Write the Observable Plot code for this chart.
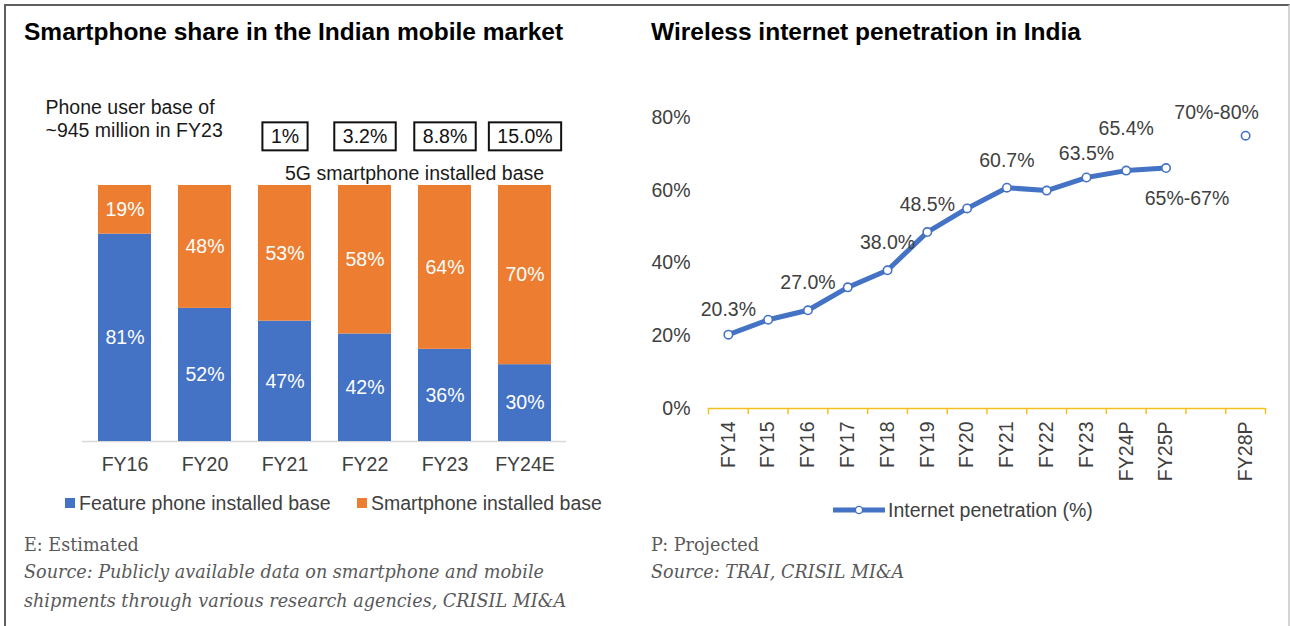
<!DOCTYPE html>
<html>
<head>
<meta charset="utf-8">
<script src="https://cdn.jsdelivr.net/npm/d3@7"></script>
<script src="https://cdn.jsdelivr.net/npm/@observablehq/plot@0.6"></script>
<style>
  html, body { margin: 0; padding: 0; background: #fff; }
  #root { position: relative; width: 1290px; height: 626px; overflow: hidden; font-family: "Liberation Sans", Arial, sans-serif; }
  .frame { position: absolute; left: 4px; top: 4px; width: 1282px; height: 700px; border-top: 2px solid #5f5f5f; border-left: 2px solid #5f5f5f; border-right: 2px solid #d4d4d4; }
  .title { position: absolute; font-weight: bold; font-size: 24.5px; line-height: 30px; color: #000; white-space: nowrap; }
  .legend { position: absolute; font-size: 19.5px; line-height: 24px; color: #404040; white-space: nowrap; }
  .sw { position: absolute; width: 10px; height: 10px; }
  .note { position: absolute; font-family: "DejaVu Serif", serif; font-size: 17.6px; line-height: 26px; color: #595959; white-space: nowrap; }
  .note i { font-style: italic; }
  .plotbox { position: absolute; }
  .plotbox svg { overflow: visible; }
</style>
</head>
<body>
<div id="root">
  <div class="frame"></div>
  <div class="title" id="t1" style="left:24px; top:17px;"></div>
  <div class="title" id="t2" style="left:651px; top:17px;"></div>
  <div class="plotbox" id="leftPlot" style="left:0px; top:90px;"></div>
  <div class="plotbox" id="rightPlot" style="left:640px; top:90px;"></div>
  <div class="sw" style="left:65px; top:498px; background:#4472C4;"></div>
  <div class="legend" id="lg1" style="left:79px; top:491px;"></div>
  <div class="sw" style="left:357px; top:498px; background:#ED7D31;"></div>
  <div class="legend" id="lg2" style="left:371px; top:491px;"></div>
  <svg style="position:absolute; left:831px; top:503px;" width="56" height="14">
    <line x1="2" y1="7" x2="54" y2="7" stroke="#4472C4" stroke-width="5"></line>
    <circle cx="28" cy="7" r="3.6" fill="#fff" stroke="#4472C4" stroke-width="1.4"></circle>
  </svg>
  <div class="legend" id="lg3" style="left:888px; top:498px;"></div>
  <div class="note" id="n1" style="left:24px; top:532px;"></div>
  <div class="note" id="n2" style="left:24px; top:559px;"><i></i></div>
  <div class="note" id="n3" style="left:24px; top:588px;"><i></i></div>
  <div class="note" id="n4" style="left:651px; top:532px;"></div>
  <div class="note" id="n5" style="left:651px; top:559px;"><i></i></div>
</div>
<script>
// ---------- data: left chart ----------
const leftTitle = "Smartphone share in the Indian mobile market";
const phoneCats = ["FY16", "FY20", "FY21", "FY22", "FY23", "FY24E"];
const featureShare = [81, 52, 47, 42, 36, 30];
const smartShare = [19, 48, 53, 58, 64, 70];
const seriesNames = ["Feature phone installed base", "Smartphone installed base"];
const fiveGCats = ["FY21", "FY22", "FY23", "FY24E"];
const fiveGShare = ["1%", "3.2%", "8.8%", "15.0%"];
const fiveGNote = "5G smartphone installed base";
const userBaseNote = "Phone user base of\n~945 million in FY23";
const leftNotes = ["E: Estimated", "Source: Publicly available data on smartphone and mobile", "shipments through various research agencies, CRISIL MI&A"];

// ---------- data: right chart ----------
const rightTitle = "Wireless internet penetration in India";
const axisSlots = ["FY14", "FY15", "FY16", "FY17", "FY18", "FY19", "FY20", "FY21", "FY22", "FY23", "FY24P", "FY25P", "", "FY28P"];
const penCats = ["FY14", "FY15", "FY16", "FY17", "FY18", "FY19", "FY20", "FY21", "FY22", "FY23", "FY24P", "FY25P"];
const penVals = [20.3, 24.4, 27.0, 33.3, 38.0, 48.5, 55.0, 60.7, 59.9, 63.5, 65.4, 66.1];
const outlookCat = "FY28P";
const outlookVal = 75.0;
const labelCats = ["FY14", "FY16", "FY18", "FY19", "FY21", "FY23", "FY24P", "FY25P", "FY28P"];
const labelTexts = ["20.3%", "27.0%", "38.0%", "48.5%", "60.7%", "63.5%", "65.4%", "65%-67%", "70%-80%"];
const yTicks = [0, 20, 40, 60, 80];
const seriesName = "Internet penetration (%)";
const rightNotes = ["P: Projected", "Source: TRAI, CRISIL MI&A"];

// ---------- styles ----------
const FONT = '"Liberation Sans", Arial, sans-serif';
const BLUE = "#4472C4", ORANGE = "#ED7D31", GOLD = "#F5C01E", AXIS_TEXT = "#404040";

document.getElementById("t1").textContent = leftTitle;
document.getElementById("t2").textContent = rightTitle;
document.getElementById("lg1").textContent = seriesNames[0];
document.getElementById("lg2").textContent = seriesNames[1];
document.getElementById("lg3").textContent = seriesName;
document.getElementById("n1").textContent = leftNotes[0];
document.querySelector("#n2 i").textContent = leftNotes[1];
document.querySelector("#n3 i").textContent = leftNotes[2];
document.getElementById("n4").textContent = rightNotes[0];
document.querySelector("#n5 i").textContent = rightNotes[1];

// ---------- left chart ----------
const barData = [];
phoneCats.forEach((c, i) => {
  barData.push({cat: c, series: seriesNames[0], v: featureShare[i]});
  barData.push({cat: c, series: seriesNames[1], v: smartShare[i]});
});
const boxData = fiveGCats.map((c, i) => ({cat: c, t: fiveGShare[i]}));

const left = Plot.plot({
  width: 640, height: 390,
  marginTop: 95, marginBottom: 39, marginLeft: 82, marginRight: 74,
  style: {fontFamily: FONT, fontSize: "19.5px", color: AXIS_TEXT, background: "transparent", overflow: "visible"},
  x: {domain: phoneCats, paddingInner: 0.34, paddingOuter: 0.17, label: null},
  y: {domain: [0, 100], axis: null, label: null},
  color: {domain: seriesNames, range: [BLUE, ORANGE]},
  marks: [
    Plot.ruleY([0], {stroke: "#d9d9d9", strokeWidth: 1.5}),
    Plot.barY(barData, {x: "cat", y: "v", fill: "series"}),
    Plot.text(barData, Plot.stackY({x: "cat", y: "v", z: "series", text: d => d.v + "%", fill: "white"})),
    Plot.axisX({tickSize: 0, tickPadding: 16, label: null}),
    Plot.text(boxData, {x: "cat", text: "t", frameAnchor: "top", dy: -56, fill: "#111", ariaLabel: () => "fiveg-box"}),
    Plot.text([fiveGNote], {x: () => fiveGCats[0], text: d => d, frameAnchor: "top", textAnchor: "start", dy: -19, fill: "#1a1a1a"}),
    Plot.text([userBaseNote], {text: d => d, frameAnchor: "top-left", textAnchor: "start", lineAnchor: "middle", lineHeight: 1.18, dx: -37, dy: -67, fill: "#1a1a1a"})
  ]
});
document.getElementById("leftPlot").appendChild(left);

// boxes around 5G share labels
const NS = "http://www.w3.org/2000/svg";
Array.from(left.querySelectorAll("text"))
  .filter(t => t.getAttribute("aria-label") === "fiveg-box" || (fiveGShare.includes(t.textContent) && t.getAttribute("fill") !== "white"))
  .forEach(t => {
    const b = t.getBBox();
    const r = document.createElementNS(NS, "rect");
    r.setAttribute("x", b.x - 8.5);
    r.setAttribute("y", b.y + b.height / 2 - 14);
    r.setAttribute("width", b.width + 17);
    r.setAttribute("height", 28);
    r.setAttribute("fill", "none");
    r.setAttribute("stroke", "#111");
    r.setAttribute("stroke-width", 2);
    if (t.getAttribute("transform")) r.setAttribute("transform", t.getAttribute("transform"));
    t.parentNode.insertBefore(r, t);
  });

// ---------- right chart ----------
const slotOf = c => axisSlots.indexOf(c);
const lineData = penCats.map((c, i) => ({cat: c, slot: slotOf(c), v: penVals[i]}));
const pointData = lineData.concat([{cat: outlookCat, slot: slotOf(outlookCat), v: outlookVal}]);
const valueOf = c => pointData.find(d => d.cat === c).v;
const labelData = labelCats.map((c, i) => ({cat: c, slot: slotOf(c), v: valueOf(c), text: labelTexts[i]}));
const labelOffsets = {
  FY14: [0, -25], FY16: [0, -28], FY18: [0, -28], FY19: [0, -27], FY21: [0, -27],
  FY23: [0, -24], FY24P: [0, -42], FY25P: [21, 31], FY28P: [-29, -23]
};
const tickIdx = axisSlots.map((s, i) => s ? i : -1).filter(i => i >= 0);
const bounds = d3.range(axisSlots.length + 1).map(i => i - 0.5);

const right = Plot.plot({
  width: 650, height: 410,
  marginTop: 27, marginBottom: 92, marginLeft: 68, marginRight: 25,
  style: {fontFamily: FONT, fontSize: "19.5px", color: AXIS_TEXT, background: "transparent", overflow: "visible"},
  x: {type: "linear", domain: [-0.5, axisSlots.length - 0.5], label: null},
  y: {domain: [0, 80], label: null},
  marks: [
    Plot.ruleY([0], {stroke: GOLD, strokeWidth: 1.5}),
    Plot.ruleX(bounds, {x: d => d, y1: 0, y2: -1.7, stroke: GOLD, strokeWidth: 1.5}),
    Plot.axisY(yTicks, {tickFormat: d => d + "%", tickSize: 0, tickPadding: 18, label: null}),
    Plot.axisX(tickIdx, {tickFormat: i => axisSlots[i], tickRotate: -90, tickSize: 0, tickPadding: 13, label: null}),
    Plot.line(lineData, {x: "slot", y: "v", stroke: BLUE, strokeWidth: 5, strokeLinejoin: "round", strokeLinecap: "round"}),
    Plot.dot(pointData, {x: "slot", y: "v", r: 4.2, fill: "white", stroke: BLUE, strokeWidth: 1.6}),
    ...labelData.map(d => Plot.text([d], {x: "slot", y: "v", text: "text", dx: labelOffsets[d.cat][0], dy: labelOffsets[d.cat][1], fill: AXIS_TEXT}))
  ]
});
document.getElementById("rightPlot").appendChild(right);
</script>
</body>
</html>
